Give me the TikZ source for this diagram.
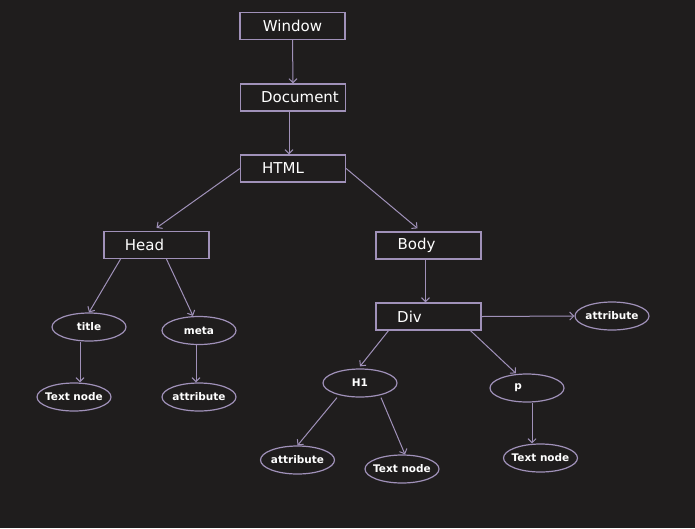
\documentclass[tikz,border=0pt]{standalone}
\usepackage{fontspec}
\setmainfont{DejaVu Sans}
\usetikzlibrary{shapes.geometric,arrows.meta}
\definecolor{bg}{RGB}{31,29,29}
\definecolor{edge}{RGB}{160,145,185}

\begin{document}
\begin{tikzpicture}[x=1pt, y=-1pt,
    element/.style ={rectangle, draw=edge, line width=1.3pt, minimum width=105pt, minimum height=27pt, inner sep=0pt},
    elemtext/.style ={text=white, font=\fontsize{15}{18}\selectfont},
    leaf/.style ={ellipse, draw=edge, line width=1.2pt, minimum width=74pt, minimum height=28pt, inner xsep=-8pt, inner ysep=0pt, text=white, font=\bfseries\fontsize{10.5}{12}\selectfont},
    link/.style ={draw=edge, line width=1pt, -{Straight Barb[length=4pt,width=8pt]}}]
   \useasboundingbox (0,0) rectangle (695,528);
   \fill[bg] (0,0) rectangle (695,528);

   \node[element] (W) [label={[elemtext]center:Window}] at (292.5,26)  {};
   \node[element] (D) [label={[elemtext,xshift=7pt]center:Document}] at (293,97.5)  {};
   \node[element] (H) [label={[elemtext,xshift=-10pt]center:HTML}] at (293,168.5)  {};
   \node[element] (He) [label={[elemtext,xshift=-12pt]center:Head}] at (156.5,245)  {};
   \node[element] (B) [label={[elemtext,xshift=-12pt]center:Body}] at (428.5,245.5)  {};
   \node[element] (Dv) [label={[elemtext,xshift=-19pt]center:Div}] at (428.5,316.5)  {};

   \node[leaf] (T) at (89,327)  {title};
   \node[leaf] (M) at (199,330.5)  {meta};
   \node[leaf] (T1) at (74,397)  {Text node};
   \node[leaf] (A1) at (199,397)  {attribute};
   \node[leaf] (A2) at (612,316)  {attribute};
   \node[leaf] (H1) at (360,383)  {H1};
   \node[leaf] (P) [label={[text=white, font=\bfseries\fontsize{10.5}{12}\selectfont, xshift=-9pt]center:p}] at (527,388)  {};
   \node[leaf] (A3) at (297.5,460)  {attribute};
   \node[leaf] (T2) at (402,469)  {Text node};
   \node[leaf] (T3) at (540.5,458)  {Text node};

   \draw[link] (W.south) to  (D.north);
   \draw[link] ([xshift=-4pt]D.south) to  ([xshift=-4pt]H.north);
   \draw[link] (H.west) to  ([yshift=3pt]He.north);
   \draw[link] (H.east) to  ([xshift=-11pt,yshift=3pt]B.north);
   \draw[link] ([xshift=-36pt]He.south) to  (T.north);
   \draw[link] ([xshift=10pt]He.south) to  ([xshift=-6pt]M.north);
   \draw[link] ([xshift=-9pt]T.south) to  ([xshift=6pt]T1.north);
   \draw[link] ([xshift=-3pt]M.south) to  ([xshift=-3pt]A1.north);
   \draw[link] ([xshift=-3pt]B.south) to  ([xshift=-3pt]Dv.north);
   \draw[link] (Dv.east) to  (A2.west);
   \draw[link] ([xshift=-40pt]Dv.south) to  ([yshift=2pt]H1.north);
   \draw[link] ([xshift=42pt]Dv.south) to  ([xshift=-11pt]P.north);
   \draw[link] ([xshift=-23pt]H1.south) to  (A3.north);
   \draw[link] ([xshift=21pt]H1.south) to  ([xshift=3pt]T2.north);
   \draw[link] ([xshift=5pt]P.south) to  ([xshift=-8.5pt]T3.north);
\end{tikzpicture}
\end{document}
